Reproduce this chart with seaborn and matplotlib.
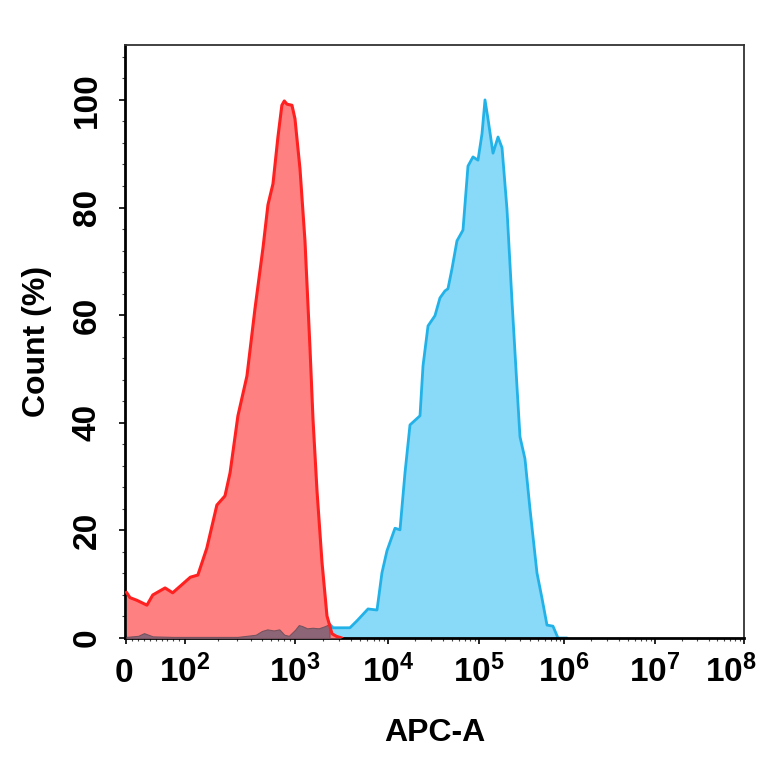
import numpy as np
import pandas as pd
import matplotlib
matplotlib.use("Agg")
import matplotlib.pyplot as plt
import matplotlib.transforms as mtransforms
import seaborn as sns
from matplotlib.ticker import MultipleLocator

# DATA

red_x = [0, 6, 18, 35, 45, 66, 79, 112, 131, 158, 195, 231, 257, 303, 366,
         433, 512, 568, 631, 700, 760, 800, 846, 939, 1000, 1132, 1281, 1450,
         1562, 1726, 1952, 2208, 2500, 2800, 3200]
red_y = [8.5, 7.5, 7.0, 6.1, 8.0, 9.3, 8.4, 11.3, 11.7, 16.7, 24.7, 26.4,
         30.7, 41.3, 48.7, 61.2, 72.5, 80.5, 84.4, 93.1, 99.0, 99.8, 99.2,
         99.0, 96.5, 87.2, 73.8, 53.9, 40.7, 27.3, 14.1, 4.1, 0.8, 0.3, 0.0]

blue_x = [0, 20, 30, 45, 80, 300, 440, 500, 560, 640, 720, 800, 880, 1000,
          1100, 1200, 1350, 1550, 1800, 2100, 2350, 2566, 3900, 4645, 6100,
          7620, 8610, 9750, 11940, 13550, 15380, 17450, 22480, 24270, 27540,
          32840, 37250, 42270, 45600, 50470, 57280, 66680, 75680, 85900,
          97500, 108500, 117700, 127600, 146200, 167500, 186700, 213500,
          244600, 280000, 303600, 347600, 398000, 481000, 551000, 631000,
          742000, 850000, 1080000]
blue_y = [0.2, 0.4, 0.9, 0.3, 0.2, 0.2, 0.6, 1.3, 1.6, 1.4, 1.6, 0.6, 0.4,
          1.5, 2.4, 2.2, 1.8, 1.9, 1.8, 2.2, 2.6, 1.9, 1.9, 3.2, 5.4, 5.2,
          12.1, 16.2, 20.4, 20.1, 30.7, 39.6, 41.3, 50.6, 58.0, 59.9, 63.2,
          64.5, 64.9, 68.6, 73.8, 75.8, 87.7, 89.4, 88.8, 93.7, 100.0, 96.5,
          90.1, 93.1, 91.1, 79.7, 62.6, 46.7, 37.4, 33.3, 24.0, 12.1, 7.4,
          2.4, 2.2, 0.0, 0.0]

x_tick_values = [0, 1e2, 1e3, 1e4, 1e5, 1e6, 1e7, 1e8]
x_tick_labels = ["0", r"$10^{2}$", r"$10^{3}$", r"$10^{4}$", r"$10^{5}$",
                 r"$10^{6}$", r"$10^{7}$", r"$10^{8}$"]
y_tick_values = [0, 20, 40, 60, 80, 100]

red_df = pd.DataFrame({"APC-A": red_x, "Count": red_y})
blue_df = pd.DataFrame({"APC-A": blue_x, "Count": blue_y})

# ESCALA TIPO BIEXPONENCIAL (lineal hasta 100, log despues)

lin_k = 0.585
dec_exp = np.array([2, 3, 4, 5, 6, 7, 8], dtype=float)
dec_pos = np.array([58.5, 168.5, 261.5, 352.5, 437.5, 528.5, 617.5])


def fwd(x):
    x = np.asarray(x, dtype=float)
    lg = np.log10(np.maximum(x, 100.0))
    pos = np.interp(lg, dec_exp, dec_pos)
    pos = np.where(lg > 8, dec_pos[-1] + (lg - 8) * 89, pos)
    return np.where(x <= 100, x * lin_k, pos)


def inv(p):
    p = np.asarray(p, dtype=float)
    lg = np.interp(p, dec_pos, dec_exp)
    lg = np.where(p > dec_pos[-1], 8 + (p - dec_pos[-1]) / 89, lg)
    lg = np.minimum(lg, 12)
    return np.where(p <= dec_pos[0], p / lin_k, 10 ** lg)


sns.set_theme(style="ticks")
plt.rcParams["font.family"] = ["Liberation Sans", "DejaVu Sans"]
plt.rcParams["font.weight"] = "bold"
plt.rcParams["text.color"] = "black"
plt.rcParams["axes.labelcolor"] = "black"
plt.rcParams["xtick.color"] = "black"
plt.rcParams["ytick.color"] = "black"
plt.rcParams["mathtext.fontset"] = "custom"
plt.rcParams["mathtext.rm"] = "Liberation Sans:bold"
plt.rcParams["mathtext.bf"] = "Liberation Sans:bold"
plt.rcParams["mathtext.it"] = "Liberation Sans:bold"

fig = plt.figure(figsize=(7.64, 7.64), dpi=100)
ax = fig.add_axes([125 / 764, 1 - 638 / 764, 619 / 764, 593 / 764])

red_fill = "#FF8080"
red_line = "#FF2020"
blue_fill = "#89D9F8"
blue_line = "#22B2E8"
mauve = "#8C6676"

# HISTOGRAMA AZUL
ax.fill_between(blue_df["APC-A"], blue_df["Count"], 0,
                color=blue_fill, lw=0, zorder=1)
sns.lineplot(data=blue_df, x="APC-A", y="Count", ax=ax, color=blue_line,
             lw=2.0, sort=False, estimator=None, zorder=2)

# HISTOGRAMA ROJO
ax.fill_between(red_df["APC-A"], red_df["Count"], 0,
                color=red_fill, lw=0, zorder=3)

# cola azul vista a traves del rojo
tail = blue_df[blue_df["APC-A"] <= 2350]
ax.fill_between(tail["APC-A"], tail["Count"], 0,
                color=mauve, lw=0.8, edgecolor="#76535F", zorder=4)

sns.lineplot(data=red_df, x="APC-A", y="Count", ax=ax, color=red_line,
             lw=2.2, sort=False, estimator=None, zorder=5)

ax.set_xscale("function", functions=(fwd, inv))
ax.set_xlim(-2.5, 1e8)
ax.set_ylim(0, 110.2)

ax.set_xticks(x_tick_values)
ax.set_xticklabels(x_tick_labels)
minor_x = list(range(10, 100, 10))
for e in range(2, 8):
    minor_x += [m * 10 ** e for m in range(2, 10)]
ax.set_xticks(minor_x, minor=True)

ax.set_yticks(y_tick_values)
ax.yaxis.set_minor_locator(MultipleLocator(4))
for lab in ax.get_yticklabels():
    lab.set_rotation(90)
    lab.set_va("center")

ax.tick_params(axis="both", which="major", direction="out", length=4,
               width=1.2, color="black", labelsize=24)
ax.tick_params(axis="both", which="minor", direction="out", length=2.5,
               width=0.8, color="#444444")
ax.tick_params(axis="x", which="major", pad=8)
ax.tick_params(axis="y", which="major", pad=12)

# ajustes finos de etiquetas: el 0 baja un poco, el 10^8 se corre para caber
etiquetas = ax.get_xticklabels()
etiquetas[0].set_transform(etiquetas[0].get_transform() + mtransforms.ScaledTranslation(
    -3 / 100, -3 / 100, fig.dpi_scale_trans))
etiquetas[-1].set_transform(etiquetas[-1].get_transform() + mtransforms.ScaledTranslation(
    -13 / 100, 0, fig.dpi_scale_trans))

for lado in ["left", "bottom"]:
    ax.spines[lado].set_linewidth(2.0)
    ax.spines[lado].set_color("black")
for lado in ["top", "right"]:
    ax.spines[lado].set_linewidth(1.3)
    ax.spines[lado].set_color("#333333")

ax.set_xlabel("APC-A", fontsize=23, fontweight="bold", labelpad=21)
ax.set_ylabel("Count (%)", fontsize=23, fontweight="bold", labelpad=14)
ax.grid(False)

fig.savefig("out.png", dpi=100)
plt.close(fig)
